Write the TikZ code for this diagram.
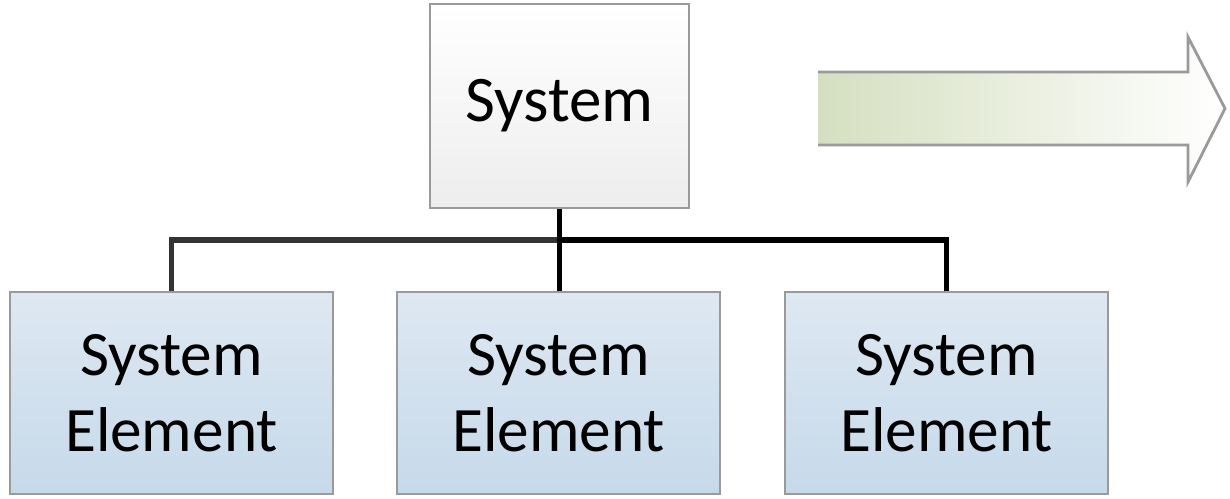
\documentclass[tikz,border=0pt]{standalone}
\usepackage{fontspec}
\setmainfont{Carlito}
\usetikzlibrary{calc,positioning}

\definecolor{boxline}{HTML}{9A9A9A}
\definecolor{topgrey}{HTML}{EDEDED}
\definecolor{elemtop}{HTML}{DEE8F2}
\definecolor{elembot}{HTML}{C6D9EA}
\definecolor{arrowgreen}{HTML}{D5DFC0}

\tikzset{
    sysbox/.style={draw=boxline, line width=0.8pt, top color=white, bottom color=topgrey,
        minimum width=2.59cm, minimum height=2.04cm, inner sep=0pt,
        font=\fontsize{18.5}{22}\selectfont},
    elembox/.style={draw=boxline, line width=0.8pt, top color=elemtop, bottom color=elembot,
        minimum width=3.23cm, minimum height=2.02cm, inner sep=0pt, align=center,
        font=\fontsize{18}{21.5}\selectfont},
    bus/.style={line width=1.5pt}
}

\begin{document}
\begin{tikzpicture}
    \useasboundingbox (0,0) rectangle (12.3,4.98);
    % top level
    \node[sysbox] (sys) at (5.595,3.92) {System};
    % elements
    \foreach \x [count=\i] in {1.715,5.585,9.465} {
        \node[elembox] (el\i) at (\x,1.05) {System\\Element};
    }
    \coordinate (bus) at (5.595,2.58);
    \draw[bus, black!80] (el1.north) |- (bus);
    \draw[bus] (bus) -| (el3.north);
    \draw[bus] (sys.south) -- (sys.south |- el2.north);

    % arrow
    \shade[left color=arrowgreen, right color=white]
        (8.18,4.26) -- (11.88,4.26) -- (11.88,4.61) -- (12.25,3.895)
        -- (11.88,3.16) -- (11.88,3.53) -- (8.18,3.53) -- cycle;
    \draw[boxline, line width=0.8pt, line join=miter]
        (8.18,4.26) -- (11.88,4.26) -- (11.88,4.61) -- (12.25,3.895)
        -- (11.88,3.16) -- (11.88,3.53) -- (8.18,3.53);
\end{tikzpicture}
\end{document}
